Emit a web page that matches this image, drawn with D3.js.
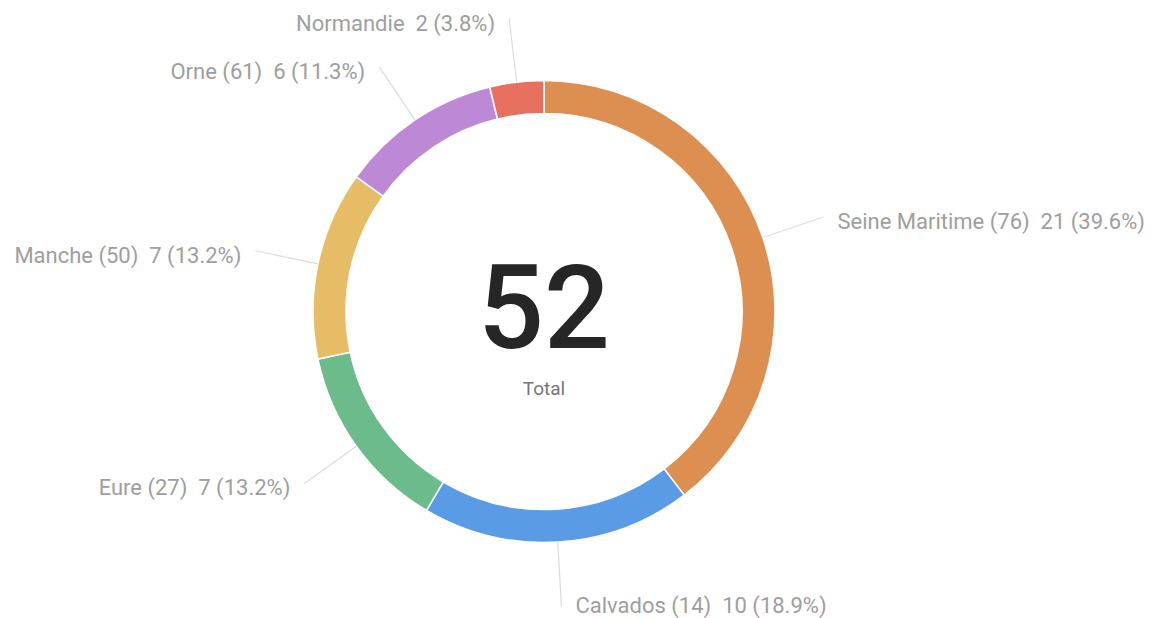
<!DOCTYPE html>
<html>
<head>
<meta charset="utf-8">
<script src="https://cdn.jsdelivr.net/npm/d3@7"></script>
<style>
    html, body { margin: 0; padding: 0; background: #fff; }
    svg { display: block; font-family: Roboto, "Noto Sans", sans-serif; }
</style>
</head>
<body>
<div id="chart"></div>
<script>
// slice order, clockwise from 12 o'clock
const categories = ['Seine Maritime (76)', 'Calvados (14)', 'Eure (27)', 'Manche (50)', 'Orne (61)', 'Normandie'];
const values = [21, 10, 7, 7, 6, 2];
const colors = ['#dc8f51', '#5a9be5', '#6cbb8b', '#e6bd66', '#bd89d6', '#e8705f'];
const totalLabel = '52';
const totalCaption = 'Total';

const width = 1154, height = 618;
const cx = 544, cy = 311.5;
const outerR = 231, innerR = 198, lineR = 295;

const sum = d3.sum(values);
const fmtPct = d3.format('.1%');
const data = categories.map((c, i) => ({name: c, value: values[i], color: colors[i]}));

const svg = d3.select('#chart').append('svg')
    .attr('width', width)
    .attr('height', height);

const g = svg.append('g').attr('transform', `translate(${cx},${cy})`);

const pie = d3.pie().sort(null).value(d => d.value);
const arc = d3.arc().innerRadius(innerR).outerRadius(outerR);
const arcs = pie(data);

g.selectAll('path.slice')
    .data(arcs)
    .join('path')
    .classed('slice', true)
    .attr('d', arc)
    .attr('fill', d => d.data.color)
    .attr('stroke', '#fff')
    .attr('stroke-width', 1.5);

/* leader lines go straight out from the middle of each slice */
const polar = (a, r) => [Math.sin(a) * r, -Math.cos(a) * r];
const mid = d => (d.startAngle + d.endAngle) / 2;

g.selectAll('line.leader')
    .data(arcs)
    .join('line')
    .classed('leader', true)
    .attr('x1', d => polar(mid(d), outerR)[0])
    .attr('y1', d => polar(mid(d), outerR)[1])
    .attr('x2', d => polar(mid(d), lineR)[0])
    .attr('y2', d => polar(mid(d), lineR)[1])
    .attr('stroke', '#dcdcdc')
    .attr('stroke-width', 1.2);

g.selectAll('text.label')
    .data(arcs)
    .join('text')
    .classed('label', true)
    .attr('x', d => {
        const [x] = polar(mid(d), lineR);
        return x + (Math.sin(mid(d)) >= 0 ? 14 : -14);
    })
    // keep the bottom label inside the frame
    .attr('y', d => Math.min(polar(mid(d), lineR)[1] + 12, height - cy - 5))
    .attr('text-anchor', d => Math.sin(mid(d)) >= 0 ? 'start' : 'end')
    .attr('font-size', 22)
    .attr('fill', '#9e9e9e')
    .style('white-space', 'pre')
    .text(d => `${d.data.name}  ${d.data.value} (${fmtPct(d.data.value / sum)})`);

g.append('text')
    .attr('x', 0)
    .attr('y', 36)
    .attr('text-anchor', 'middle')
    .attr('font-size', 116)
    .attr('font-weight', 500)
    .attr('fill', '#262626')
    .text(totalLabel);

g.append('text')
    .attr('x', 0)
    .attr('y', 83)
    .attr('text-anchor', 'middle')
    .attr('font-size', 19)
    .attr('fill', '#757575')
    .text(totalCaption);
</script>
</body>
</html>
